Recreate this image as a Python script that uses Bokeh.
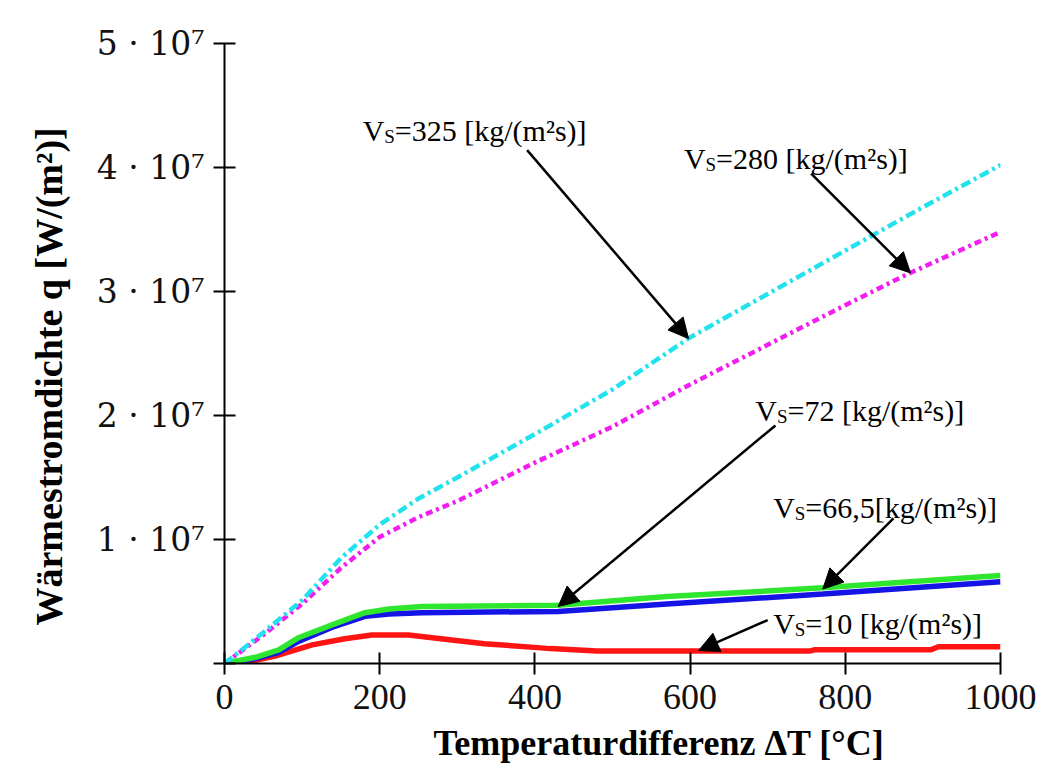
from bokeh.plotting import figure
from bokeh.models import Range1d, Label, Arrow, NormalHead, CustomJSTickFormatter, FixedTicker, Title
from bokeh.embed import file_html
from bokeh.resources import INLINE

# ---------------- data (W/m^2 over temperature difference in °C) ----------------
x_ticks = [0, 200, 400, 600, 800, 1000]
y_ticks = [0, 1e7, 2e7, 3e7, 4e7, 5e7]

x_red = [0, 36, 65, 113, 155, 190, 237, 279, 335, 399, 420, 480, 600, 754, 760, 910, 920, 1000]
y_red = [0, 0.2e6, 0.6e6, 1.5e6, 2.0e6, 2.3e6, 2.3e6, 2.0e6, 1.6e6, 1.3e6, 1.2e6, 1.0e6,
         1.0e6, 1.0e6, 1.1e6, 1.1e6, 1.35e6, 1.35e6]

x_blue = [0, 40, 70, 96, 142, 181, 212, 254, 430, 570, 771, 1000]
y_blue = [0, 0.4e6, 0.9e6, 1.8e6, 3.0e6, 3.8e6, 4.0e6, 4.1e6, 4.2e6, 4.8e6, 5.6e6, 6.6e6]

x_green = [0, 40, 70, 96, 142, 181, 212, 254, 430, 570, 771, 1000]
y_green = [0, 0.5e6, 1.1e6, 2.1e6, 3.2e6, 4.1e6, 4.4e6, 4.6e6, 4.7e6, 5.4e6, 6.1e6, 7.1e6]

x_cyan = [0, 50, 100, 150, 200, 250, 300, 400, 500, 600, 700, 800, 900, 1000]
y_cyan = [0, 2.5e6, 5.1e6, 8.5e6, 11.2e6, 13.3e6, 15.0e6, 18.5e6, 22.1e6, 26.3e6,
          29.8e6, 33.3e6, 36.8e6, 40.2e6]

x_mag = [0, 50, 100, 150, 200, 250, 300, 400, 500, 600, 700, 800, 880, 1000]
y_mag = [0, 2.3e6, 4.8e6, 7.7e6, 10.2e6, 11.8e6, 13.1e6, 16.2e6, 19.1e6, 22.5e6,
         25.7e6, 28.9e6, 31.4e6, 34.8e6]

# annotations: value text, label anchor, arrow start and tip (data coordinates)
ann_values = ["=325 [kg/(m²s)]", "=280 [kg/(m²s)]", "=72 [kg/(m²s)]", "=66,5[kg/(m²s)]", "=10 [kg/(m²s)]"]
ann_x = [178, 592, 684, 707, 707]
ann_y = [4.30e7, 4.07e7, 2.04e7, 1.26e7, 0.32e7]
arr_x0 = [390, 756, 710, 862, 700]
arr_y0 = [4.14e7, 3.95e7, 1.92e7, 1.17e7, 0.35e7]
arr_x1 = [598, 884, 430, 771, 611]
arr_y1 = [2.62e7, 3.15e7, 0.46e7, 0.60e7, 0.105e7]

x_title = "Temperaturdifferenz ΔT [°C]"
y_title = "Wärmestromdichte q [W/(m²)]"

# ---------------- font metrics (Times / Liberation Serif) ----------------
W_REG = {' ': .25, '(': .333, ')': .333, ',': .25, '/': .278, '=': .564, '[': .333, ']': .333,
         'V': .722, 'S': .556, 'g': .5, 'k': .5, 'm': .778, 's': .389, '²': .3}


def tw(s, size, table):
    return sum(table.get(c, 0.5) for c in s) * size


SERIF = "Liberation Serif"

p = figure(width=1050, height=772, x_range=Range1d(0, 1000), y_range=Range1d(0, 5e7),
           output_backend="svg", toolbar_location=None,
           min_border_left=224, min_border_right=50, min_border_top=43, min_border_bottom=109)
p.background_fill_color = "white"
p.border_fill_color = "white"
p.outline_line_color = None
p.xgrid.visible = False
p.ygrid.visible = False

for ax in (p.xaxis[0], p.yaxis[0]):
    ax.axis_line_width = 2
    ax.axis_line_color = "black"
    ax.major_tick_line_width = 2
    ax.major_tick_line_color = "black"
    ax.major_tick_in = 11
    ax.major_tick_out = 11
    ax.minor_tick_line_color = None
    ax.major_label_text_color = "#111111"

p.xaxis.ticker = FixedTicker(ticks=x_ticks)
p.yaxis.ticker = FixedTicker(ticks=y_ticks)
p.xaxis.major_label_text_font = SERIF
p.xaxis.major_label_text_font_size = "36px"
p.xaxis.major_label_standoff = 10
p.yaxis.major_label_text_font = "DejaVu Serif"
p.yaxis.major_label_text_font_size = "33px"
p.yaxis.major_label_standoff = 9
p.yaxis.formatter = CustomJSTickFormatter(
    code="return tick == 0 ? '' : Math.round(tick/1e7) + ' \u00b7 10\u2077';")

# axis titles as side-panel titles
p.add_layout(Title(text=x_title, align="left", offset=209, text_font=SERIF,
                   text_font_size="36px", text_font_style="bold", standoff=18,
                   text_color="black"), "below")
p.add_layout(Title(text=y_title, align="left", offset=38, text_font=SERIF,
                   text_font_size="38px", text_font_style="bold", standoff=48,
                   text_color="black"), "left")

# ---------------- curves ----------------
p.line(x_red, y_red, line_color="#ff1414", line_width=5.5)
p.line(x_blue, y_blue, line_color="#1414e6", line_width=5.5)
p.line(x_green, y_green, line_color="#2ee62e", line_width=5.5)
p.line(x_mag, y_mag, line_color="#f01ef0", line_width=4.5, line_dash="7 4 3 4")
p.line(x_cyan, y_cyan, line_color="#22e2ee", line_width=4.5, line_dash="10 4 3 4")

# ---------------- annotations ----------------
BASE = 30
SUB = 19
for txt, lx, ly, x0, y0, x1, y1 in zip(ann_values, ann_x, ann_y, arr_x0, arr_y0, arr_x1, arr_y1):
    off = 0.0
    for piece, size, dy in (("V", BASE, 0), ("S", SUB, -6), (txt, BASE, 0)):
        p.add_layout(Label(x=lx, y=ly, x_offset=off, y_offset=dy, text=piece,
                           text_font=SERIF, text_font_size=f"{size}px",
                           text_baseline="alphabetic", text_align="left", text_color="black"))
        off += tw(piece, size, W_REG)
    p.add_layout(Arrow(x_start=x0, y_start=y0, x_end=x1, y_end=y1, line_width=2.5,
                       line_color="black",
                       end=NormalHead(size=20, fill_color="black", line_color="black")))

open("out.html", "w").write(file_html(p, INLINE))
